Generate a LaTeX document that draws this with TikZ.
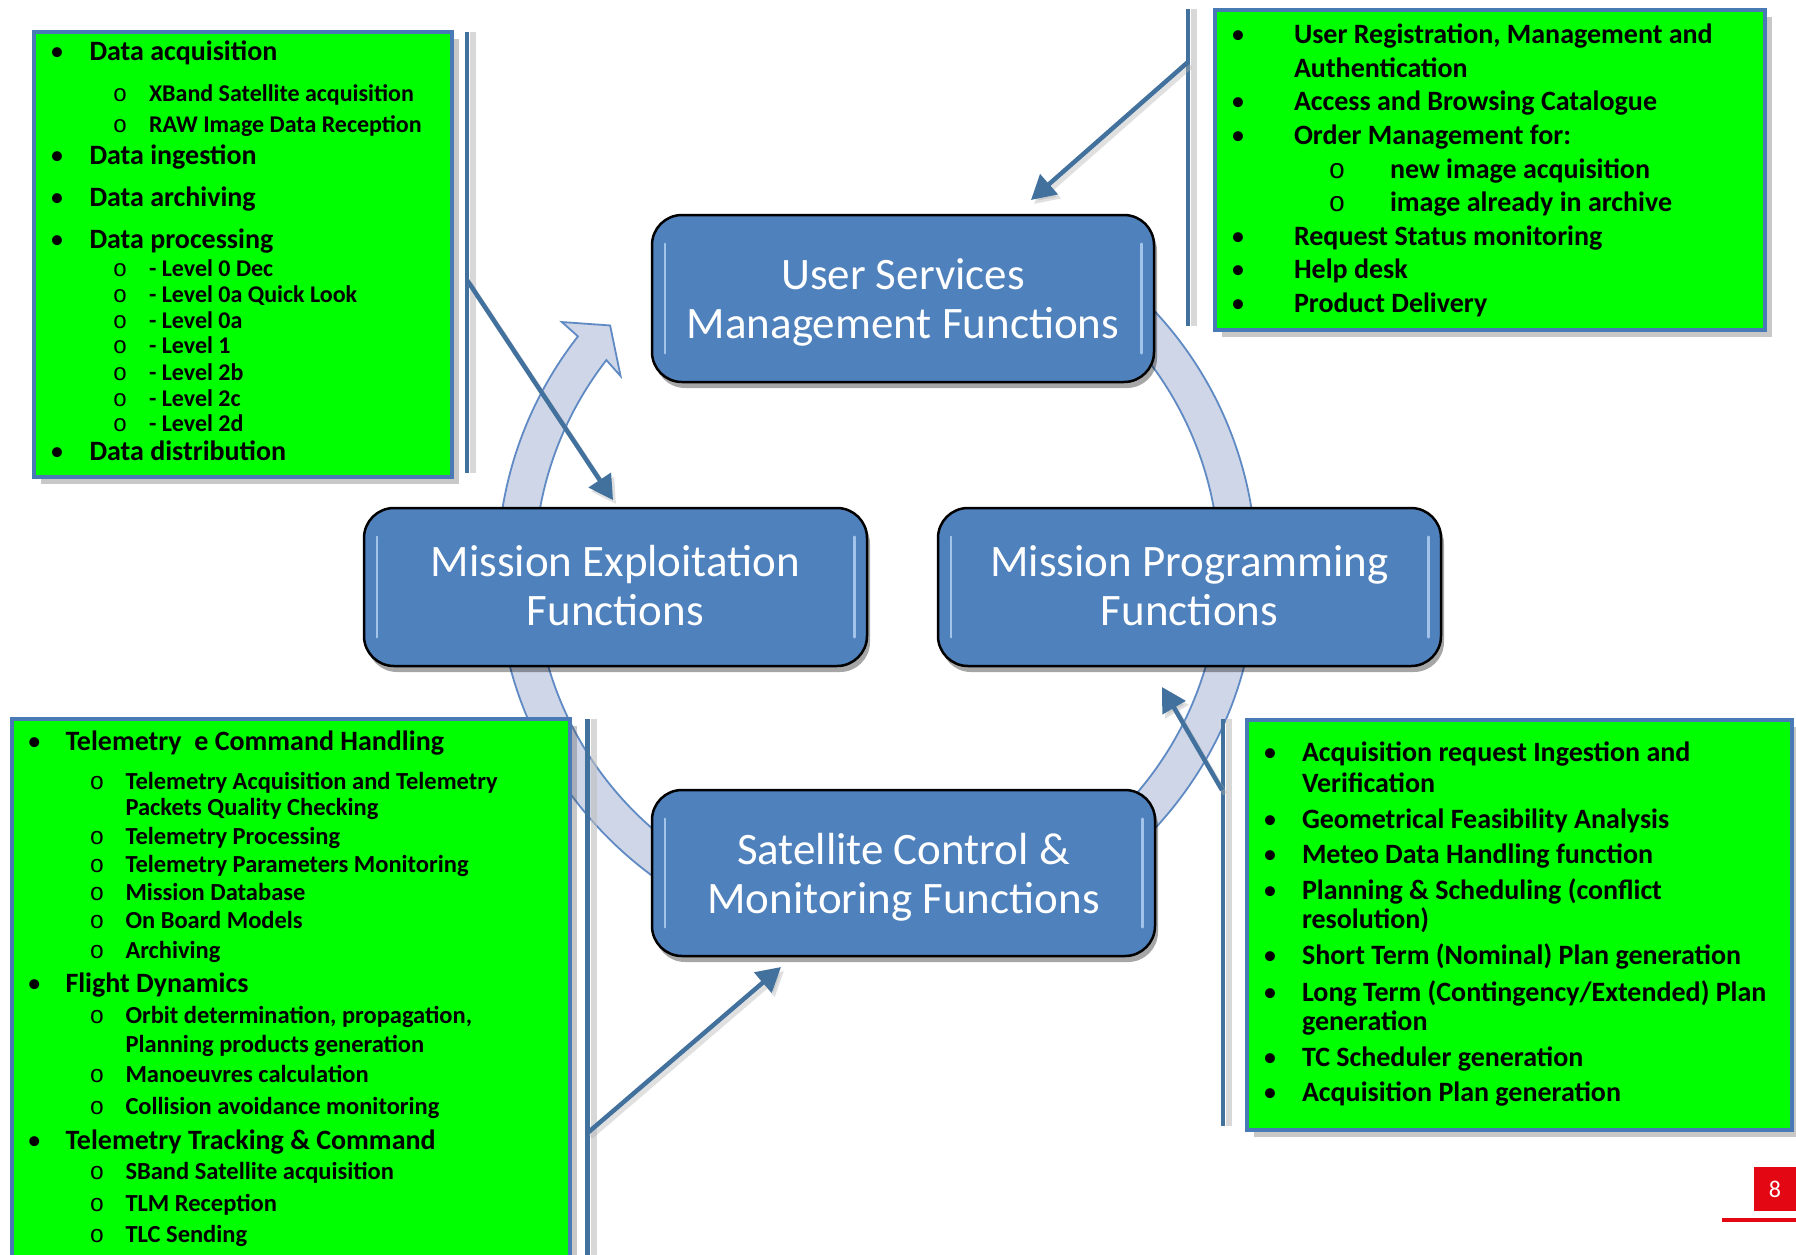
\documentclass[tikz,border=0pt]{standalone}
\usepackage{fontspec}
\setmainfont{Carlito}
\newfontfamily\monofam{Liberation Mono}
\usetikzlibrary{arrows.meta,shadows}
\definecolor{ringfill}{RGB}{206,214,231}
\definecolor{ringdraw}{RGB}{95,138,196}
\definecolor{boxblue}{RGB}{79,129,189}
\definecolor{linblue}{RGB}{65,113,156}
\definecolor{grn}{RGB}{0,255,0}
\definecolor{grnborder}{RGB}{74,122,182}
\definecolor{pgred}{RGB}{227,6,19}
\definecolor{hilite}{RGB}{190,218,250}
\newcommand\Litem[5]{%
  \node[bul,font=\fontsize{28}{28}\selectfont] (#1b) at (#2,#4) {•};
  \node[txt,font=\bfseries\fontsize{28}{28}\selectfont] (#1) at (#3,#4) {#5};}
\newcommand\Lsub[6]{%
  \node[bul,font=\monofam\fontsize{#6}{#6}\selectfont] (#1b) at (#2,#4) {o};
  \node[txt,font=\bfseries\fontsize{#6}{#6}\selectfont] (#1) at (#3,#4) {#5};}
\newcommand\Lcont[5]{%
  \node[txt,font=\bfseries\fontsize{#5}{#5}\selectfont] (#1) at (#2,#3) {#4};}
\begin{document}
\begin{tikzpicture}[x=1pt,y=-1pt,
  txt/.style={anchor=base west,inner sep=0pt,outer sep=0pt,text=black},
  bul/.style={anchor=base,inner sep=0pt,outer sep=0pt,text=black},
  ring/.style={fill=ringfill,draw=ringdraw,line width=1.8pt},
  fbox/.style={draw=black,line width=2.5pt,rounded corners=30pt,fill=boxblue,inner sep=0pt,
    drop shadow={shadow xshift=3pt,shadow yshift=-6pt,opacity=.35,fill=black}},
  ftext/.style={text=white,align=center,font=\fontsize{45}{49}\selectfont,inner sep=0pt},
  hl/.style={draw=hilite,line width=2.5pt,line cap=round,opacity=.75},
  gbox/.style={fill=grn,draw=grnborder,line width=4pt,inner sep=0pt,anchor=north west,
    drop shadow={shadow xshift=7pt,shadow yshift=-7pt,opacity=.3,fill=black!70}},
  vline/.style={draw=linblue,line width=4.5pt},
  vshadow/.style={draw=black!25,line width=6pt,opacity=.6},
  arr/.style={draw=linblue,line width=4.5pt,-{Triangle[length=24pt,width=26pt]}},
  arrsh/.style={draw=black!30,line width=5pt,opacity=.4,-{Triangle[length=24pt,width=26pt]}}
]
\useasboundingbox (0,0) rectangle (1796,1254);
\fill[white] (0,0) rectangle (1796,1254);

% cycle ring
\begin{scope}[shift={(877,570)}]
\path[ring] (310:379.5) arc[start angle=310,end angle=578,radius=379.5]
  -- (578.2:401) -- (582.5:362) -- (577.1:321.5) -- (577.8:342.5)
  arc[start angle=577.8,end angle=310,radius=342.5] -- cycle;
\end{scope}

% blue function boxes
\node[fbox,minimum width=502pt,minimum height=167pt] (usm) at (903,298.5) {};
\node[fbox,minimum width=503pt,minimum height=158pt] (mef) at (615.5,587) {};
\node[fbox,minimum width=503pt,minimum height=158pt] (mpf) at (1189.5,587) {};
\node[fbox,minimum width=503pt,minimum height=166pt] (scm) at (903.5,873) {};
\foreach \b in {usm,mef,mpf,scm}{
  \draw[hl] ([xshift=14pt,yshift=-30pt]\b.north west) -- ([xshift=14pt,yshift=30pt]\b.south west);
  \draw[hl] ([xshift=-14pt,yshift=-30pt]\b.north east) -- ([xshift=-14pt,yshift=30pt]\b.south east);
}
\node[ftext] (usmt) at ([yshift=-4pt]usm.center) {User Services\\Management Functions};
\node[ftext] (meft) at ([yshift=1pt]mef.center) {Mission Exploitation\\Functions};
\node[ftext] (mpft) at ([yshift=1pt]mpf.center) {Mission Programming\\Functions};
\node[ftext] (scmt) at ([yshift=-4pt]scm.center) {Satellite Control \&\\Monitoring Functions};

% green boxes
\node[gbox,minimum width=418pt,minimum height=445pt] (tlbox) at (32,30) {};
\node[gbox,minimum width=550pt,minimum height=320pt] (trbox) at (1213,8) {};
\node[gbox,minimum width=558pt,minimum height=570pt] (blbox) at (9.6,717) {};
\node[gbox,minimum width=545pt,minimum height=410pt] (brbox) at (1245,718) {};

% vertical lines
\coordinate (v1t) at (467,32);   \coordinate (v1b) at (467,473);
\coordinate (v2t) at (1188,9);   \coordinate (v2b) at (1188,326);
\coordinate (v3t) at (587.5,719);\coordinate (v3b) at (587.5,1270);
\coordinate (v4t) at (1223,719); \coordinate (v4b) at (1223,1126);
\foreach \v in {1,2,3,4}{
  \draw[vshadow] ([xshift=6pt]v\v t) -- ([xshift=6pt]v\v b);
  \draw[vline] (v\v t) -- (v\v b);
}

% arrows
\coordinate (a1s) at (467,280);    \coordinate (a1e) at (613,500);
\coordinate (a2s) at (1188,62);    \coordinate (a2e) at (1031,200);
\coordinate (a3s) at (587.5,1133); \coordinate (a3e) at (781,967);
\coordinate (a4s) at (1222,790);   \coordinate (a4e) at (1162,687);
\foreach \a in {1,2,3,4}{
  \draw[arrsh] ([xshift=3pt,yshift=-4pt]a\a s) -- ([xshift=3pt,yshift=-4pt]a\a e);
  \draw[arr] (a\a s) -- (a\a e);
}

% top-left list
\Litem{tla}{57}{89.5}{60}{Data acquisition}
\Lsub{tlb}{120}{149}{101.5}{XBand Satellite acquisition}{24}
\Lsub{tlc}{120}{149}{132.5}{RAW Image Data Reception}{24}
\Litem{tld}{57}{89.5}{164.5}{Data ingestion}
\Litem{tle}{57}{89.5}{206.5}{Data archiving}
\Litem{tlf}{57}{89.5}{248.5}{Data processing}
\Lsub{tlg}{120}{149}{276}{- Level 0 Dec}{24}
\Lsub{tlh}{120}{149}{302}{- Level 0a Quick Look}{24}
\Lsub{tli}{120}{149}{328}{- Level 0a}{24}
\Lsub{tlj}{120}{149}{353.5}{- Level 1}{24}
\Lsub{tlk}{120}{149}{380}{- Level 2b}{24}
\Lsub{tll}{120}{149}{406}{- Level 2c}{24}
\Lsub{tlm}{120}{149}{431.5}{- Level 2d}{24}
\Litem{tln}{57}{89.5}{460}{Data distribution}

% top-right list
\Litem{tra}{1238}{1294}{43.3}{User Registration, Management and}
\Lcont{trb}{1294}{77}{Authentication}{28}
\Litem{trc}{1238}{1294}{110}{Access and Browsing Catalogue}
\Litem{trd}{1238}{1294}{144}{Order Management for:}
\Lsub{tre}{1337}{1390}{178.3}{new image acquisition}{28}
\Lsub{trf}{1337}{1390}{211}{image already in archive}{28}
\Litem{trg}{1238}{1294}{245.5}{Request Status monitoring}
\Litem{trh}{1238}{1294}{278.3}{Help desk}
\Litem{tri}{1238}{1294}{312}{Product Delivery}

% bottom-left list
\Litem{bla}{34.4}{65.5}{750}{Telemetry\ \ e Command Handling}
\Lsub{blb}{97}{125.5}{789}{Telemetry Acquisition and Telemetry}{24.5}
\Lcont{blc}{125.5}{815.5}{Packets Quality Checking}{24.5}
\Lsub{bld}{97}{125.5}{844}{Telemetry Processing}{24.5}
\Lsub{ble}{97}{125.5}{872.5}{Telemetry Parameters Monitoring}{24.5}
\Lsub{blf}{97}{125.5}{900.5}{Mission Database}{24.5}
\Lsub{blg}{97}{125.5}{928.5}{On Board Models}{24.5}
\Lsub{blh}{97}{125.5}{958}{Archiving}{24.5}
\Litem{bli}{34.4}{65.5}{992}{Flight Dynamics}
\Lsub{blj}{97}{125.5}{1023}{Orbit determination, propagation,}{24.5}
\Lcont{blk}{125.5}{1052}{Planning products generation}{24.5}
\Lsub{bll}{97}{125.5}{1082.5}{Manoeuvres calculation}{24.5}
\Lsub{blm}{97}{125.5}{1114.5}{Collision avoidance monitoring}{24.5}
\Litem{bln}{34.4}{65.5}{1149.5}{Telemetry Tracking \& Command}
\Lsub{blo}{97}{125.5}{1179.5}{SBand Satellite acquisition}{24.5}
\Lsub{blp}{97}{125.5}{1211.5}{TLM Reception}{24.5}
\Lsub{blq}{97}{125.5}{1242.5}{TLC Sending}{24.5}

% bottom-right list
\Litem{bra}{1270}{1302}{761.5}{Acquisition request Ingestion and}
\Lcont{brb}{1302}{792.5}{Verification}{28}
\Litem{brc}{1270}{1302}{828}{Geometrical Feasibility Analysis}
\Litem{brd}{1270}{1302}{863.5}{Meteo Data Handling function}
\Litem{bre}{1270}{1302}{899}{Planning \& Scheduling (conflict}
\Lcont{brf}{1302}{928.7}{resolution)}{28}
\Litem{brg}{1270}{1302}{964.3}{Short Term (Nominal) Plan generation}
\Litem{brh}{1270}{1302}{1001}{Long Term (Contingency/Extended) Plan}
\Lcont{bri}{1302}{1030.7}{generation}{28}
\Litem{brj}{1270}{1302}{1066.2}{TC Scheduler generation}
\Litem{brk}{1270}{1302}{1101.7}{Acquisition Plan generation}

% page number
\node[fill=pgred,text=white,minimum width=42pt,minimum height=44pt,inner sep=0pt,
  font=\fontsize{24}{24}\selectfont] (pg) at (1775,1189) {8};
\draw[pgred,line width=3.5pt] (1722,1220) -- (1796,1220);
\end{tikzpicture}
\end{document}
